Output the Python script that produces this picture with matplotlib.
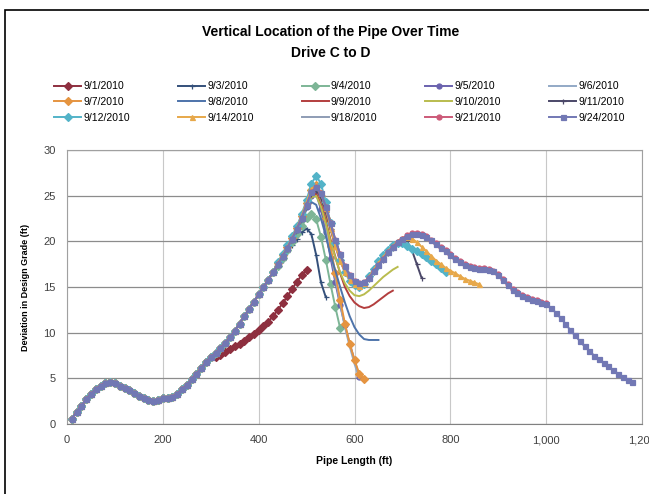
import numpy as np
import matplotlib.pyplot as plt
from matplotlib.patches import Rectangle

plt.rcParams['font.family'] = ['Liberation Sans', 'DejaVu Sans']

# shared path, stations 10..300 ft (all drives follow it)
base_x = np.arange(10, 310, 10)
base_y = [0.6, 1.3, 2.0, 2.7, 3.3, 3.8, 4.2, 4.5, 4.6, 4.5,
          4.2, 3.9, 3.7, 3.4, 3.1, 2.8, 2.6, 2.5, 2.6, 2.8,
          2.9, 3.0, 3.3, 3.8, 4.3, 4.9, 5.5, 6.1, 6.8, 7.3]

# shared climb, stations 310..430 ft (all but 9/1)
climb_x = np.arange(310, 440, 10)
climb_y = [7.8, 8.3, 8.9, 9.5, 10.2, 11.0, 11.8, 12.6, 13.4, 14.2, 15.0, 15.8, 16.6]

dates = ['9/1/2010', '9/3/2010', '9/4/2010', '9/5/2010', '9/6/2010',
         '9/7/2010', '9/8/2010', '9/9/2010', '9/10/2010', '9/11/2010',
         '9/12/2010', '9/14/2010', '9/18/2010', '9/21/2010', '9/24/2010']

# each drive after the shared part (first station of tail)
tail_start = [310, 440, 440, 440, 440, 440, 440, 440, 440, 440, 440, 440, 440, 440, 440]

y_0901 = [7.3, 7.6, 7.9, 8.2, 8.5, 8.8, 9.1, 9.5, 9.9, 10.3, 10.7, 11.2, 11.8,
          12.5, 13.2, 14.0, 14.8, 15.6, 16.3, 16.9]
y_0903 = [17.2, 18.0, 18.8, 19.6, 20.3, 21.0, 21.4, 20.8, 18.5, 15.5, 13.9]
y_0904 = [17.3, 18.2, 19.0, 19.9, 20.8, 21.7, 22.5, 23.0, 22.4, 20.5, 18.0,
          15.3, 12.8, 10.5]
y_0905 = [17.4, 18.3, 19.2, 20.2, 21.2, 22.4, 23.8, 25.0, 25.2, 23.5, 21.0,
          18.2, 15.5, 13.0, 10.8, 8.8, 7.0, 5.2]
y_0906 = [17.5, 18.4, 19.3, 20.3, 21.4, 22.6, 24.0, 25.5, 25.8, 24.2, 21.8,
          19.0, 16.0, 13.2, 10.6, 8.5, 6.6, 5.0]
y_0907 = [17.6, 18.5, 19.4, 20.4, 21.5, 22.8, 24.2, 25.6, 26.2, 25.0, 22.5,
          19.5, 16.5, 13.6, 11.0, 8.8, 7.0, 5.5, 4.9]
y_0908 = [17.3, 18.2, 19.1, 20.1, 21.1, 22.3, 23.5, 24.3, 24.0, 22.5, 20.6,
          18.5, 16.8, 15.0, 13.3, 11.8, 10.6, 9.8, 9.3, 9.2, 9.2, 9.2]
y_0909 = [17.5, 18.4, 19.3, 20.3, 21.4, 22.6, 24.0, 25.0, 25.2, 24.0, 22.2,
          20.2, 18.3, 16.5, 15.0, 14.0, 13.3, 12.9, 12.7, 12.8, 13.1, 13.5,
          13.9, 14.3, 14.6]
y_0910 = [17.4, 18.3, 19.2, 20.2, 21.3, 22.5, 23.8, 24.8, 25.0, 23.8, 22.0,
          20.0, 18.2, 16.6, 15.4, 14.6, 14.1, 14.0, 14.2, 14.6, 15.1, 15.6,
          16.1, 16.5, 16.9, 17.2]
y_0911 = [17.5, 18.4, 19.3, 20.3, 21.4, 22.6, 24.0, 25.2, 25.6, 24.8, 23.2,
          21.3, 19.5, 17.9, 16.7, 15.8, 15.3, 15.1, 15.3, 15.9, 16.6, 17.3,
          18.0, 18.7, 19.3, 19.8, 20.3, 20.0, 19.0, 17.5, 16.0]
y_0912 = [17.7, 18.6, 19.6, 20.6, 21.7, 23.0, 24.5, 26.3, 27.2, 26.3, 24.3,
          22.0, 19.8, 18.0, 16.6, 15.7, 15.2, 15.0, 15.3, 16.2, 17.0, 17.8,
          18.5, 19.1, 19.6, 19.8, 19.8, 19.5, 19.2, 18.9, 18.6, 18.3, 17.9,
          17.5, 17.1, 16.6]
y_0914 = [17.6, 18.5, 19.4, 20.4, 21.5, 22.8, 24.3, 25.7, 26.2, 25.4, 23.6,
          21.5, 19.5, 17.9, 16.6, 15.8, 15.3, 15.1, 15.4, 16.1, 16.9, 17.6,
          18.3, 18.9, 19.5, 20.0, 20.4, 20.5, 20.3, 19.9, 19.4, 18.9, 18.4,
          17.9, 17.5, 17.1, 16.8, 16.5, 16.2, 15.9, 15.7, 15.5, 15.3]
y_0918 = [17.5, 18.4, 19.3, 20.3, 21.4, 22.6, 24.0, 25.3, 25.8, 25.2, 23.7,
          21.9, 20.1, 18.5, 17.2, 16.2, 15.6, 15.3, 15.4, 15.9, 16.6, 17.3,
          18.0, 18.7, 19.3, 19.8, 20.2, 20.5, 20.7, 20.7, 20.6, 20.4, 20.0,
          19.6, 19.2, 18.8, 18.4, 18.0, 17.6, 17.3, 17.1, 17.0, 16.9, 16.9,
          16.8]
y_0921 = [17.5, 18.4, 19.3, 20.3, 21.4, 22.6, 24.0, 25.4, 25.9, 25.3, 23.8,
          22.0, 20.2, 18.6, 17.3, 16.3, 15.7, 15.4, 15.5, 16.0, 16.7, 17.4,
          18.1, 18.8, 19.4, 19.9, 20.3, 20.7, 20.9, 20.9, 20.8, 20.6, 20.2,
          19.8, 19.4, 19.0, 18.6, 18.2, 17.8, 17.5, 17.3, 17.2, 17.1, 17.1,
          17.0, 16.8, 16.4, 15.9, 15.3, 14.8, 14.4, 14.1, 13.9, 13.7, 13.6,
          13.4, 13.2]
y_0924 = [17.5, 18.4, 19.3, 20.3, 21.4, 22.6, 24.0, 25.4, 25.9, 25.3, 23.8,
          22.0, 20.2, 18.6, 17.3, 16.3, 15.7, 15.4, 15.5, 16.0, 16.7, 17.4,
          18.1, 18.8, 19.4, 19.9, 20.3, 20.6, 20.8, 20.8, 20.7, 20.5, 20.1,
          19.7, 19.3, 18.9, 18.5, 18.1, 17.7, 17.4, 17.2, 17.1, 17.0, 17.0,
          16.9, 16.7, 16.3, 15.8, 15.2, 14.7, 14.3, 14.0, 13.8, 13.6, 13.5,
          13.3, 13.1, 12.7, 12.2, 11.6, 11.0, 10.3, 9.7, 9.1, 8.5, 8.0,
          7.5, 7.1, 6.7, 6.3, 5.9, 5.5, 5.1, 4.8, 4.6]

tails = [y_0901, y_0903, y_0904, y_0905, y_0906, y_0907, y_0908, y_0909,
         y_0910, y_0911, y_0912, y_0914, y_0918, y_0921, y_0924]

colors = ['#8E2F3F', '#34507A', '#7DB596', '#6A62AE', '#93A9C6',
          '#E59440', '#4D73AA', '#B33E3E', '#B9BC4E', '#4B4868',
          '#53B3C8', '#E7A84A', '#8E9CB4', '#CC5A78', '#7278B4']
markers = ['D', '+', 'D', 'o', None, 'D', None, None, None, '+',
           'D', '^', None, 'o', 's']

fig = plt.figure(figsize=(6.49, 4.94), dpi=100)
ax = fig.add_axes([67 / 649, 1 - 424 / 494, (642 - 67) / 649, (424 - 150) / 494])

handles = []
for i, d in enumerate(dates):
    tx = np.arange(tail_start[i], tail_start[i] + 10 * len(tails[i]), 10)
    if tail_start[i] == 310:
        xs = np.concatenate([base_x, tx])
        ys = np.concatenate([base_y, tails[i]])
    else:
        xs = np.concatenate([base_x, climb_x, tx])
        ys = np.concatenate([base_y, climb_y, tails[i]])
    h, = ax.plot(xs, ys, color=colors[i], lw=1.4, marker=markers[i],
                 markersize=3.6, markeredgewidth=0.9, label=d)
    handles.append(h)

ax.set_xlim(0, 1200)
ax.set_ylim(0, 30)
ax.set_xticks(range(0, 1201, 200))
ax.set_xticklabels(['0', '200', '400', '600', '800', '1,000', '1,200'])
ax.set_yticks(range(0, 31, 5))
ax.tick_params(length=0, labelsize=8, colors='#404040', pad=8)
ax.grid(axis='y', color='#8c8c8c', lw=0.9)
ax.grid(axis='x', color='#c8c8c8', lw=0.8)
ax.set_axisbelow(True)
for s in ax.spines.values():
    s.set_color('#a0a0a0')
    s.set_linewidth(0.8)
ax.spines['bottom'].set_color('#808080')

ax.set_xlabel('Pipe Length (ft)', fontsize=7.5, fontweight='bold', labelpad=8)
ax.set_ylabel('Deviation in Design Grade (ft)', fontsize=6.5, fontweight='bold', labelpad=10)

fig.text(0.51, 1 - 32 / 494, 'Vertical Location of the Pipe Over Time',
         ha='center', va='center', fontsize=10, fontweight='bold')
fig.text(0.51, 1 - 53 / 494, 'Drive C to D',
         ha='center', va='center', fontsize=10, fontweight='bold')

# legend is filled row by row in the reference
order = [r * 5 + c for c in range(5) for r in range(3)]
fig.legend([handles[k] for k in order], [dates[k] for k in order],
           loc='upper left', bbox_to_anchor=(45 / 649, 1 - 72 / 494), ncol=5,
           frameon=False, fontsize=7.5, handlelength=2.6, handletextpad=0.2,
           columnspacing=4.6, labelspacing=0.55, markerscale=1.0)

fig.patches.append(Rectangle((5 / 649, -0.05), 1.2, 1.05 - 10 / 494, fill=False,
                             edgecolor='black', lw=1.2, transform=fig.transFigure))

fig.savefig('out.png', dpi=100)
